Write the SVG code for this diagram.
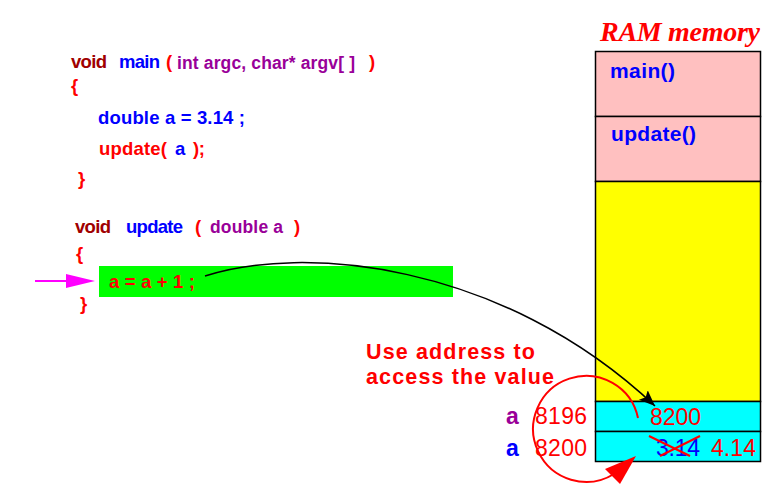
<svg xmlns="http://www.w3.org/2000/svg" width="782" height="484" viewBox="0 0 782 484">
<style>
text{font-family:"Liberation Sans",Arial,sans-serif;font-weight:bold}
.c{font-size:18.5px}
.p{font-size:17.5px}
.dr{fill:#a00000}
.bl{fill:#0000ff}
.rd{fill:#ff0000}
.pu{fill:#990099}
.mem{font-size:21px}
.num{font-size:23px;font-weight:normal}
.cell{stroke:#000;stroke-width:1.5}
</style>
<defs>
<marker id="ah" viewBox="0 0 10 10" refX="10" refY="5" markerWidth="16" markerHeight="16" markerUnits="userSpaceOnUse" orient="auto">
<path d="M0,1 L10,5 L0,9 L2,5 z" fill="#000"/>
</marker>
</defs>
<rect width="782" height="484" fill="#fff"/>

<g id="code-main">
<text class="c dr" x="71" y="68" textLength="36">void</text>
<text class="c bl" x="119" y="68" textLength="41">main</text>
<text class="c rd" x="166" y="68">(</text>
<text class="p pu" x="177" y="69" textLength="178" lengthAdjust="spacing">int argc, char* argv[ ]</text>
<text class="c rd" x="369" y="68">)</text>
<text class="c rd" x="71" y="92">{</text>
<text class="c bl" x="98" y="124" textLength="147" lengthAdjust="spacing">double a = 3.14 ;</text>
<text class="c rd" x="99" y="155" textLength="68">update(</text>
<text class="c bl" x="175" y="155">a</text>
<text class="c rd" x="193" y="155" textLength="12">);</text>
<text class="c rd" x="78" y="185">}</text>
</g>

<g id="code-update">
<text class="c dr" x="75" y="233" textLength="36">void</text>
<text class="c bl" x="126" y="233" textLength="57">update</text>
<text class="c rd" x="195" y="233">(</text>
<text class="p pu" x="210" y="233" textLength="73" lengthAdjust="spacing">double a</text>
<text class="c rd" x="294" y="233">)</text>
<text class="c rd" x="76" y="260">{</text>
<g id="stmt">
<rect x="99" y="266" width="354" height="31" fill="#00ff00"/>
<text class="c rd" x="109" y="288" textLength="86" lengthAdjust="spacing">a = a + 1 ;</text>
</g>
<text class="c rd" x="80" y="310">}</text>
</g>

<g id="ram">
<text x="600" y="41" fill="#ff0000" style="font-family:'Liberation Serif','Times New Roman',serif;font-style:italic;font-size:28px" textLength="160" lengthAdjust="spacing">RAM memory</text>
<rect class="cell" x="595.5" y="51.5" width="165" height="65" fill="#ffc0c0"/>
<rect class="cell" x="595.5" y="116.5" width="165" height="65" fill="#ffc0c0"/>
<rect class="cell" x="595.5" y="181.5" width="165" height="220" fill="#ffff00"/>
<rect class="cell" x="595.5" y="401.5" width="165" height="30" fill="#00ffff"/>
<rect class="cell" x="595.5" y="431.5" width="165" height="30" fill="#00ffff"/>
<text class="mem bl" x="610" y="78" textLength="65" lengthAdjust="spacing">main()</text>
<text class="mem bl" x="611" y="141" textLength="85" lengthAdjust="spacing">update()</text>
<text class="num rd" x="650" y="425" textLength="51">8200</text>
<text class="num bl" x="656" y="456" textLength="44">3.14</text>
<text class="num rd" x="711" y="456" textLength="45">4.14</text>
<path d="M649,436 L690,456 M660,456 L700,436" stroke="#ff0000" stroke-width="2" fill="none"/>
</g>

<g id="addresses">
<text x="506" y="424" style="font-size:23px;fill:#990099">a</text>
<text class="num rd" x="535" y="424" textLength="52">8196</text>
<text class="bl" x="506" y="456" style="font-size:23px">a</text>
<text class="num rd" x="535" y="456" textLength="52">8200</text>
</g>

<g id="note">
<text class="rd" x="366" y="359" style="font-size:21.5px" textLength="169" lengthAdjust="spacing">Use address to</text>
<text class="rd" x="366" y="384" style="font-size:21.5px" textLength="188" lengthAdjust="spacing">access the value</text>
</g>

<g id="connectors">
<path d="M205,276 C300,245 500,260 655,406" fill="none" stroke="#000" stroke-width="1.5" marker-end="url(#ah)"/>
<path d="M35,281 L70,281" stroke="#ff00ff" stroke-width="2"/>
<path d="M66,274 L95,281 L66,288 z" fill="#ff00ff"/>
<path d="M638,418 A53,53 0 1 0 614,474" fill="none" stroke="#ff0000" stroke-width="2"/>
<path d="M636,456 L605,469 L620,484 z" fill="#ff0000"/>
</g>
</svg>
